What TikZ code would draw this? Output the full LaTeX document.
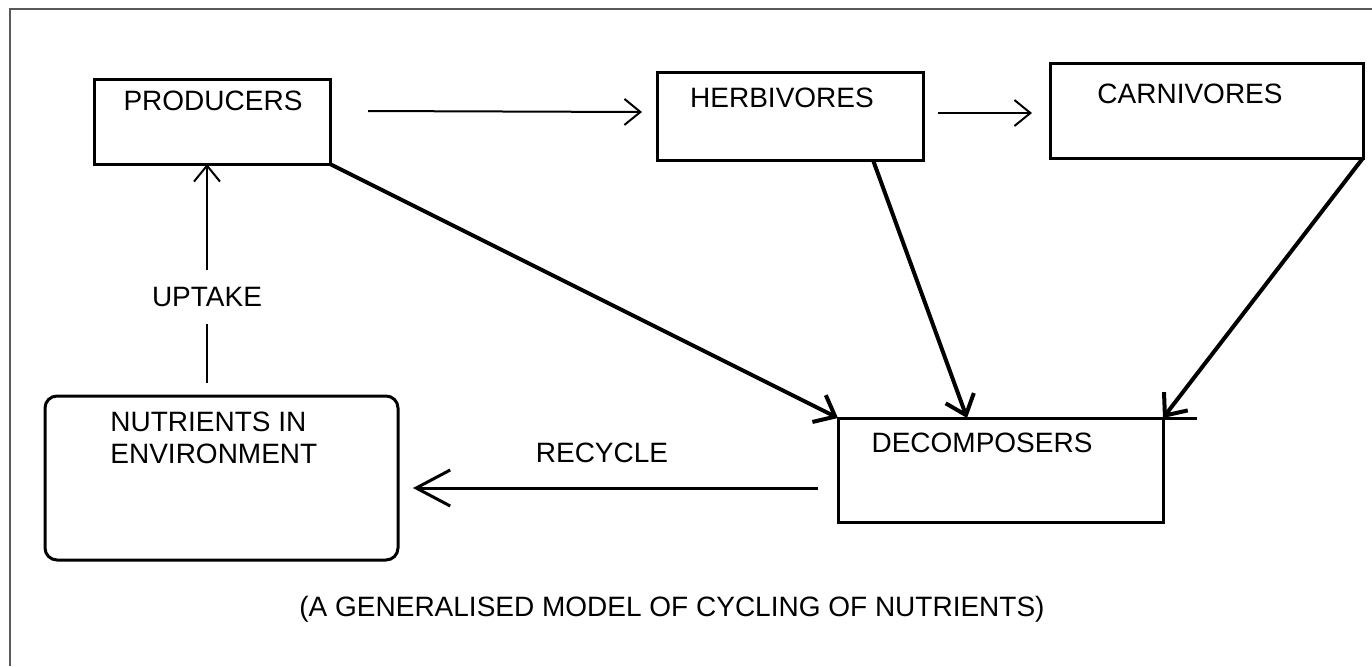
\documentclass[tikz,border=0pt]{standalone}
\usepackage{fontspec}
\setmainfont{Liberation Sans}
\usetikzlibrary{arrows.meta,calc}
\tikzset{
  box/.style={draw, rectangle, line width=1.5pt, inner sep=0pt, outer sep=0pt},
  lbl/.style={inner sep=0pt, anchor=base, font=\fontsize{14}{16}\selectfont},
  thin arrow/.style={line width=1pt, -{Straight Barb[length=8pt,width=13pt,line width=1pt]}},
  thick arrow/.style={line width=2pt, -{Straight Barb[length=9pt,width=15pt,line width=2pt]}},
}
\begin{document}
\begin{tikzpicture}[x=0.5pt,y=-0.5pt]
\useasboundingbox (0,0) rectangle (1372,666);
% frame
\draw[gray!70!black, line width=0.75pt] (10,666) -- (10,9) -- (1372,9);
% boxes
\node[box, minimum width=118pt, minimum height=42.5pt] (prod) at (212,121.5) {};
\node[box, minimum width=133pt, minimum height=44pt] (herb) at (790,116) {};
\node[box, minimum width=156.5pt, minimum height=47.5pt] (carn) at (1206.5,110.5) {};
\node[box, minimum width=162.5pt, minimum height=52pt] (dec) at (1000.5,470) {};
\node[box, rounded corners=6pt, minimum width=176.5pt, minimum height=82pt] (nutr) at (221.5,478) {};
\draw[line width=1.5pt] (dec.north east) -- ++(34,0);
% texts
\node[lbl] (tprod) at (213,110) {PRODUCERS};
\node[lbl] (therb) at (782,107) {HERBIVORES};
\node[lbl] (tcarn) at (1190,103) {CARNIVORES};
\node[lbl] (tdec) at (982,452) {DECOMPOSERS};
\node[lbl, anchor=base west, align=left, font=\fontsize{14}{16}\selectfont] (tnutr) at (110,463) {NUTRIENTS IN\\ENVIRONMENT};
\node[lbl] (trec) at (602,462) {RECYCLE};
\node[lbl] (cap) at (672,616) {(A GENERALISED MODEL OF CYCLING OF NUTRIENTS)};
% connectors
\draw[thin arrow] ($(prod.east)+(38,-10.5)$) -- ($(herb.west)+(-15,-4)$);
\draw[thin arrow] ($(herb.east)+(15,-3)$) -- ($(carn.west)+(-18,2.5)$);
\draw[thin arrow] ($(nutr.north)+(-14.5,-13)$) -- ($(prod.south)+(-5,0)$)
  node[pos=0.393, fill=white, inner xsep=1pt, inner ysep=8.5pt, font=\fontsize{14}{16}\selectfont] (tup) {UPTAKE};
\draw[line width=1.5pt, -{Straight Barb[length=17pt,width=18pt,line width=1.5pt]}] ($(dec.west)+(-20,18)$) -- ($(nutr.east)+(15,10)$);
\draw[thick arrow] (prod.south east) -- (dec.north west);
\draw[thick arrow] ($(herb.south)+(83,0)$) -- ($(dec.north)+(-33.5,0)$);
\draw[thick arrow] (carn.south east) -- (dec.north east);
\end{tikzpicture}
\end{document}
